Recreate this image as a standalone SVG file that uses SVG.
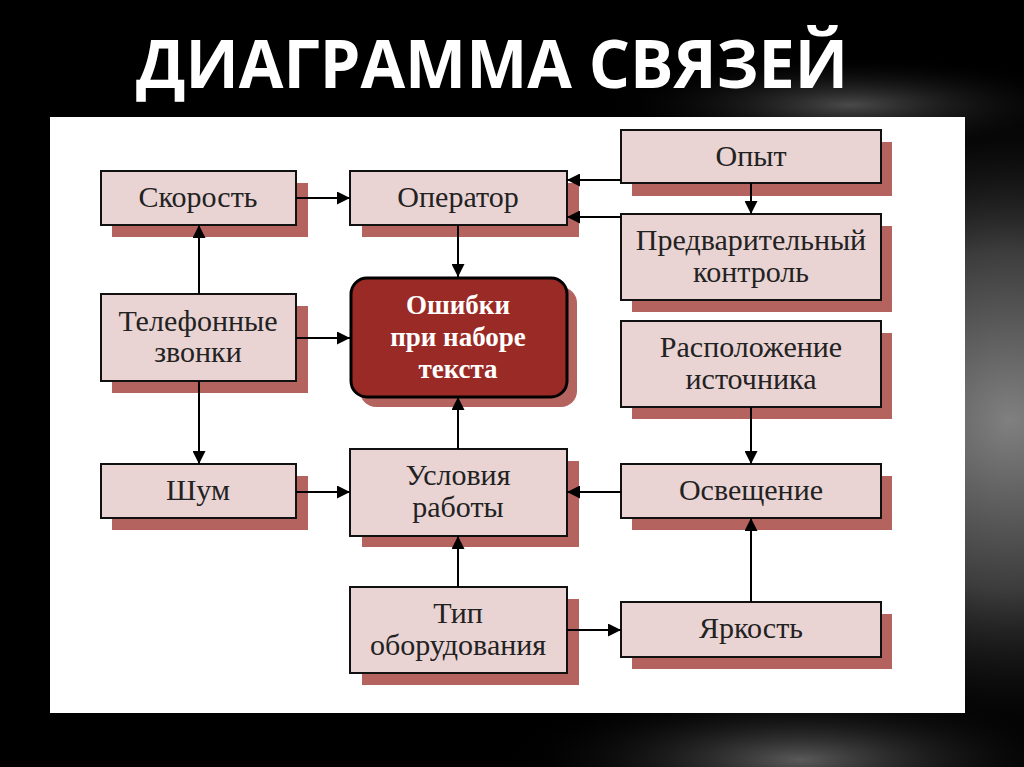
<svg xmlns="http://www.w3.org/2000/svg" width="1024" height="767" viewBox="0 0 1024 767">
<defs>
<radialGradient id="g1" cx="1010" cy="420" r="340" gradientUnits="userSpaceOnUse">
<stop offset="0" stop-color="#808080"/><stop offset="0.5" stop-color="#3c3c3c"/><stop offset="1" stop-color="#000" stop-opacity="0"/>
</radialGradient>
<radialGradient id="g2" cx="800" cy="760" r="300" gradientTransform="translate(800 760) scale(1 0.25) translate(-800 -760)" gradientUnits="userSpaceOnUse">
<stop offset="0" stop-color="#5a5a5a"/><stop offset="1" stop-color="#000" stop-opacity="0"/>
</radialGradient>
<radialGradient id="g3" cx="850" cy="105" r="250" gradientTransform="translate(850 105) scale(1 0.2) translate(-850 -105)" gradientUnits="userSpaceOnUse">
<stop offset="0" stop-color="#4a4a4a"/><stop offset="1" stop-color="#000" stop-opacity="0"/>
</radialGradient>
<marker id="ah" viewBox="0 0 13 13" refX="13" refY="6.5" markerWidth="13" markerHeight="13" markerUnits="userSpaceOnUse" orient="auto">
<path d="M0,0 L13,6.5 L0,13 Z" fill="#000"/>
</marker>
<style>
.box{fill:#e9d3d3;stroke:#111;stroke-width:2}
.sh{fill:#b5635e}
.t{font-family:"Liberation Serif","DejaVu Serif",serif;font-size:30px;fill:#222;text-anchor:middle}
.tb{font-family:"Liberation Serif","DejaVu Serif",serif;font-size:27px;font-weight:bold;fill:#fff;text-anchor:middle}
.c{stroke:#000;stroke-width:2;fill:none;marker-end:url(#ah)}
</style>
</defs>
<rect width="1024" height="767" fill="#000"/>
<rect width="1024" height="767" fill="url(#g1)"/>
<rect width="1024" height="767" fill="url(#g2)"/>
<rect width="1024" height="767" fill="url(#g3)"/>
<text x="492" y="88" font-family="'Open Sans','DejaVu Sans',sans-serif" font-weight="bold" font-size="66" fill="#fff" text-anchor="middle" textLength="712" lengthAdjust="spacingAndGlyphs">ДИАГРАММА СВЯЗЕЙ</text>
<rect x="50" y="117" width="915" height="596" fill="#fff"/>

<g id="n-skorost"><rect class="sh" x="112" y="183" width="196" height="54"/><rect class="box" x="101" y="171" width="195" height="54"/><text class="t" x="198" y="207">Скорость</text></g>
<g id="n-operator"><rect class="sh" x="362" y="183" width="217" height="54"/><rect class="box" x="350" y="171" width="217" height="54"/><text class="t" x="458" y="207">Оператор</text></g>
<g id="n-oshibki"><rect class="sh" x="360" y="287" width="217" height="120" rx="16"/><rect x="351" y="278" width="216" height="119" rx="16" fill="#9a2a25" stroke="#000" stroke-width="3"/><text class="tb" x="458" y="314">Ошибки</text><text class="tb" x="458" y="346">при наборе</text><text class="tb" x="458" y="378">текста</text></g>
<g id="n-telefon"><rect class="sh" x="112" y="306" width="196" height="87"/><rect class="box" x="101" y="294" width="195" height="87"/><text class="t" x="198" y="331">Телефонные</text><text class="t" x="198" y="362">звонки</text></g>
<g id="n-shum"><rect class="sh" x="112" y="476" width="196" height="54"/><rect class="box" x="101" y="464" width="195" height="54"/><text class="t" x="198" y="500">Шум</text></g>
<g id="n-usloviya"><rect class="sh" x="362" y="461" width="217" height="86"/><rect class="box" x="350" y="449" width="217" height="87"/><text class="t" x="458" y="485">Условия</text><text class="t" x="458" y="517">работы</text></g>
<g id="n-tip"><rect class="sh" x="362" y="599" width="217" height="86"/><rect class="box" x="350" y="587" width="217" height="86"/><text class="t" x="458" y="623">Тип</text><text class="t" x="458" y="655">оборудования</text></g>
<g id="n-opyt"><rect class="sh" x="632" y="142" width="260" height="54"/><rect class="box" x="621" y="130" width="260" height="53"/><text class="t" x="751" y="166">Опыт</text></g>
<g id="n-predv"><rect class="sh" x="632" y="226" width="260" height="86"/><rect class="box" x="621" y="214" width="260" height="86"/><text class="t" x="751" y="250">Предварительный</text><text class="t" x="751" y="282">контроль</text></g>
<g id="n-raspol"><rect class="sh" x="632" y="333" width="260" height="86"/><rect class="box" x="621" y="321" width="260" height="86"/><text class="t" x="751" y="357">Расположение</text><text class="t" x="751" y="389">источника</text></g>
<g id="n-osvesch"><rect class="sh" x="632" y="476" width="260" height="54"/><rect class="box" x="621" y="464" width="260" height="54"/><text class="t" x="751" y="500">Освещение</text></g>
<g id="n-yarkost"><rect class="sh" x="632" y="614" width="260" height="55"/><rect class="box" x="621" y="602" width="260" height="55"/><text class="t" x="751" y="638">Яркость</text></g>

<g id="connectors">
<line class="c" x1="296" y1="198" x2="350" y2="198"/>
<line class="c" x1="199" y1="294" x2="199" y2="225"/>
<line class="c" x1="296" y1="338" x2="350" y2="338"/>
<line class="c" x1="199" y1="381" x2="199" y2="464"/>
<line class="c" x1="458" y1="225" x2="458" y2="277"/>
<line class="c" x1="458" y1="449" x2="458" y2="397"/>
<line class="c" x1="296" y1="492" x2="350" y2="492"/>
<line class="c" x1="458" y1="587" x2="458" y2="536"/>
<line class="c" x1="567" y1="630" x2="621" y2="630"/>
<line class="c" x1="621" y1="180" x2="567" y2="180"/>
<line class="c" x1="621" y1="217" x2="567" y2="217"/>
<line class="c" x1="751" y1="183" x2="751" y2="214"/>
<line class="c" x1="751" y1="407" x2="751" y2="464"/>
<line class="c" x1="621" y1="492" x2="567" y2="492"/>
<line class="c" x1="751" y1="602" x2="751" y2="518"/>
</g>
</svg>
